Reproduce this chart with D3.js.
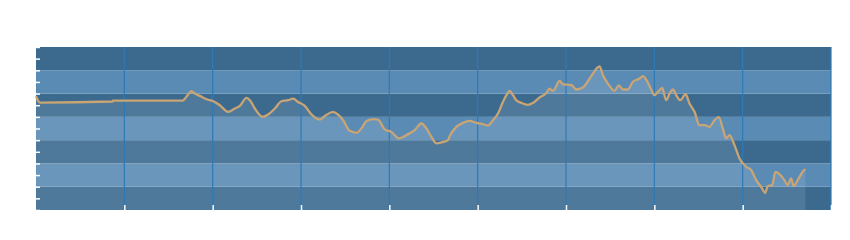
<!DOCTYPE html>
<html>
<head>
<meta charset="utf-8">
<script src="https://cdn.jsdelivr.net/npm/d3@7"></script>
<style>
  body { margin: 0; background: #fff; }
  svg { display: block; }
</style>
</head>
<body>
<svg id="chart" width="850" height="240"></svg>
<script>
// series, x in years from start (0..9), y in index units (0..14)
var xVals = [0, 0.045, 0.868, 0.871, 1.663, 1.686, 1.719, 1.761, 1.799, 1.855, 1.931, 2.006, 2.081, 2.175, 2.251, 2.308,
  2.383, 2.421, 2.477, 2.564, 2.628, 2.704, 2.779, 2.854, 2.911, 2.967, 3.043, 3.119, 3.193, 3.213, 3.281, 3.363,
  3.414, 3.477, 3.552, 3.628, 3.684, 3.741, 3.816, 3.872, 3.948, 4.024, 4.110, 4.193, 4.287, 4.363, 4.420, 4.476,
  4.533, 4.607, 4.664, 4.683, 4.758, 4.834, 4.910, 4.985, 5.060, 5.116, 5.173, 5.230, 5.286, 5.325, 5.362, 5.400,
  5.438, 5.494, 5.569, 5.626, 5.701, 5.777, 5.814, 5.852, 5.928, 5.965, 6.060, 6.116, 6.191, 6.267, 6.324, 6.355,
  6.380, 6.418, 6.474, 6.550, 6.598, 6.644, 6.700, 6.757, 6.833, 6.870, 6.908, 6.965, 7.002, 7.040, 7.089, 7.134,
  7.172, 7.210, 7.255, 7.293, 7.353, 7.398, 7.455, 7.511, 7.568, 7.624, 7.681, 7.729, 7.775, 7.813, 7.851, 7.907,
  7.964, 8.039, 8.096, 8.153, 8.209, 8.255, 8.284, 8.334, 8.371, 8.416, 8.473, 8.510, 8.549, 8.578, 8.623, 8.688, 8.710];

var yVals = [9.77, 9.23, 9.32, 9.40, 9.40, 9.57, 9.90, 10.20, 10.00, 9.80, 9.51, 9.34, 9.00, 8.43, 8.72, 8.94,
  9.63, 9.43, 8.72, 8.00, 8.20, 8.72, 9.34, 9.43, 9.57, 9.28, 8.94, 8.20, 7.80, 7.77, 8.14, 8.43,
  8.23, 7.71, 6.80, 6.63, 7.00, 7.65, 7.80, 7.77, 6.92, 6.71, 6.15, 6.43, 6.86, 7.43, 7.00, 6.28,
  5.72, 5.85, 6.00, 6.34, 7.14, 7.48, 7.65, 7.48, 7.37, 7.26, 7.71, 8.29, 9.28, 9.86, 10.23, 9.86,
  9.43, 9.20, 9.03, 9.20, 9.66, 10.05, 10.43, 10.23, 11.08, 10.80, 10.74, 10.35, 10.52, 11.29, 11.93, 12.23,
  12.34, 11.57, 10.86, 10.23, 10.71, 10.35, 10.35, 11.00, 11.29, 11.49, 11.20, 10.35, 9.86, 10.14, 10.48, 9.43,
  10.00, 10.35, 9.77, 9.43, 9.94, 9.15, 8.43, 7.29, 7.29, 7.14, 7.71, 7.97, 7.00, 6.15, 6.43, 5.57,
  4.43, 3.71, 3.43, 2.57, 2.00, 1.48, 2.06, 2.14, 3.28, 3.09, 2.57, 2.14, 2.72, 2.06, 2.57, 3.37, 3.51];

var xTicks = [0, 1, 2, 3, 4, 5, 6, 7, 8, 9];
var yTicks = [0, 1, 2, 3, 4, 5, 6, 7, 8, 9, 10, 11, 12, 13, 14];
var bandStarts = [0, 2, 4, 6, 8, 10, 12];

var data = xVals.map(function(d, i) { return {x: d, y: yVals[i]}; });

var svg = d3.select("#chart"),
  margin = {top: 47, right: 19, bottom: 30, left: 36},
  width = +svg.attr("width") - margin.left - margin.right,
  height = +svg.attr("height") - margin.top - margin.bottom;

var g = svg.append("g").attr("transform", "translate(" + margin.left + "," + margin.top + ")");

var x = d3.scaleLinear().domain([0, 9]).range([0, width]);
var y = d3.scaleLinear().domain([0, 14]).range([height, 0]);

// alternating bands
g.selectAll("rect.band")
  .data(bandStarts)
  .enter().append("rect")
  .attr("class", "band")
  .attr("x", 0)
  .attr("width", width)
  .attr("y", function(d) { return y(d + 2); })
  .attr("height", function(d) { return y(d) - y(d + 2); })
  .attr("fill", function(d) { return (d / 2) % 2 === 0 ? "#3c6a8f" : "#5a8bb5"; });

// area under the line
var area = d3.area()
  .curve(d3.curveMonotoneX)
  .x(function(d) { return x(d.x); })
  .y0(height)
  .y1(function(d) { return y(d.y); });

g.append("path")
  .datum(data)
  .attr("d", area)
  .attr("fill", "#ffffff")
  .attr("fill-opacity", 0.1);

// vertical grid
g.selectAll("line.vgrid")
  .data(xTicks.slice(1))
  .enter().append("line")
  .attr("class", "vgrid")
  .attr("x1", x).attr("x2", x)
  .attr("y1", 0).attr("y2", height)
  .attr("stroke", "#2d7ab6")
  .attr("stroke-width", 1.2);

var line = d3.line()
  .curve(d3.curveMonotoneX)
  .x(function(d) { return x(d.x); })
  .y(function(d) { return y(d.y); });

g.append("path")
  .datum(data)
  .attr("d", line)
  .attr("fill", "none")
  .attr("stroke", "#c9a474")
  .attr("stroke-width", 2.3);

// ticks, drawn inward, no labels
var yAxis = g.append("g")
  .call(d3.axisRight(y).tickValues(yTicks).tickSize(4).tickFormat(""));
var xAxis = g.append("g")
  .attr("transform", "translate(0," + height + ")")
  .call(d3.axisTop(x).tickValues(xTicks.slice(1)).tickSize(5).tickFormat(""));

[yAxis, xAxis].forEach(function(a) {
  a.select(".domain").remove();
  a.selectAll(".tick line").attr("stroke", "#ffffff").attr("stroke-width", 1.5);
});
</script>
</body>
</html>
